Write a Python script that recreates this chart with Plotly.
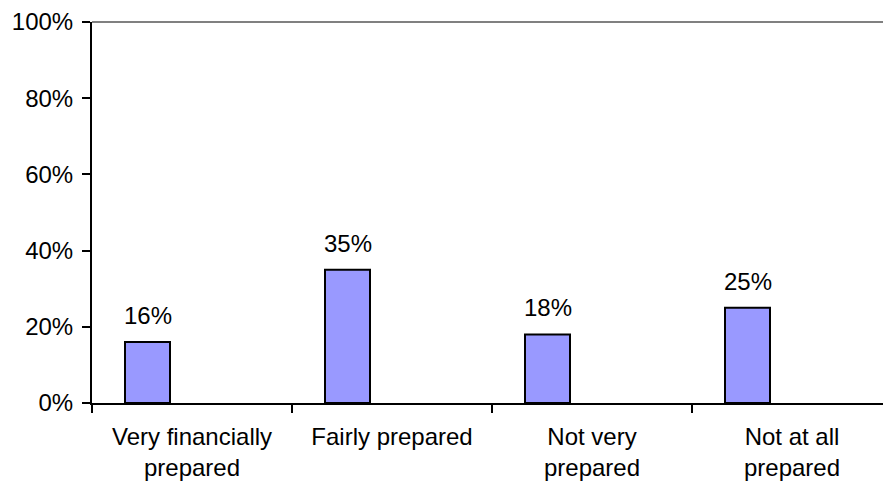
import plotly.graph_objects as go

categories = ["Very financially<br>prepared", "Fairly prepared", "Not very<br>prepared", "Not at all<br>prepared"]
values = [16, 35, 18, 25]
value_labels = ["16%", "35%", "18%", "25%"]
y_ticks = [0, 20, 40, 60, 80, 100]
y_tick_labels = ["0%", "20%", "40%", "60%", "80%", "100%"]

FONT = "Arial, Liberation Sans, sans-serif"
W, H = 883, 482
ML, MR, MT, MB = 92, 0, 22, 79
X_RANGE = [-0.5, 3.455]
BAR_WIDTH = 0.225
BAR_OFFSET = -0.335

px_per_cat = (W - ML - MR) / (X_RANGE[1] - X_RANGE[0])
label_xshift = (BAR_OFFSET + BAR_WIDTH / 2) * px_per_cat

fig = go.Figure()
fig.add_trace(go.Bar(
    x=categories,
    y=values,
    width=BAR_WIDTH,
    offset=BAR_OFFSET,
    marker=dict(color="#9999FF", line=dict(color="black", width=2)),
    cliponaxis=False,
    hoverinfo="skip",
))

annotations = [
    dict(x=c, y=v, text=t, xref="x", yref="y", showarrow=False,
         xanchor="center", yanchor="bottom", xshift=label_xshift, yshift=11,
         font=dict(size=24, color="black", family=FONT))
    for c, v, t in zip(categories, values, value_labels)
]

fig.update_layout(
    width=W, height=H,
    margin=dict(l=ML, r=MR, t=MT, b=MB, autoexpand=False),
    paper_bgcolor="white",
    plot_bgcolor="white",
    showlegend=False,
    font=dict(family=FONT, size=24, color="black"),
    xaxis=dict(
        type="category",
        range=X_RANGE,
        automargin=False,
        showline=True, linecolor="black", linewidth=2,
        ticks="outside", ticklen=8, tickwidth=2, tickcolor="black",
        tickson="boundaries",
        ticklabelstandoff=11,
        showgrid=False, zeroline=False,
        tickfont=dict(size=24, family=FONT, color="black"),
    ),
    yaxis=dict(
        range=[0, 100],
        tickvals=y_ticks, ticktext=y_tick_labels,
        automargin=False,
        showline=True, linecolor="black", linewidth=2,
        ticks="outside", ticklen=8, tickwidth=2, tickcolor="black",
        ticklabelstandoff=4,
        showgrid=False, zeroline=False,
        tickfont=dict(size=24, family=FONT, color="black"),
    ),
    annotations=annotations,
    shapes=[dict(type="line", xref="paper", yref="paper", x0=0, x1=1, y0=1, y1=1,
                 line=dict(color="#808080", width=2))],
)

fig.write_html("out.html")
